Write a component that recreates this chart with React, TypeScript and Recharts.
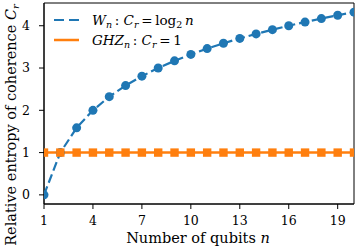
import React from 'react';
import { LineChart, Line, XAxis, YAxis, ReferenceArea } from 'recharts';

const qubits = [1, 2, 3, 4, 5, 6, 7, 8, 9, 10, 11, 12, 13, 14, 15, 16, 17, 18, 19, 20];
const wValues = [0, 1, 1.585, 2, 2.322, 2.585, 2.807, 3, 3.17, 3.322, 3.459, 3.585, 3.7, 3.807, 3.907, 4, 4.087, 4.17, 4.248, 4.322];
const ghzValues = [1, 1, 1, 1, 1, 1, 1, 1, 1, 1, 1, 1, 1, 1, 1, 1, 1, 1, 1, 1];
const xTicks = [1, 4, 7, 10, 13, 16, 19];
const yTicks = [0, 1, 2, 3, 4];

const data = qubits.map((n, i) => ({ n, w: wValues[i], ghz: ghzValues[i] }));

const BLUE = '#1f77b4';
const ORANGE = '#ff7f0e';
const FONT = 'DejaVu Serif';

const SquareDot = (props: any) => {
  const { cx, cy } = props;
  if (cx == null || cy == null) return null;
  return <rect x={cx - 4.2} y={cy - 4.2} width={8.4} height={8.4} fill={ORANGE} />;
};

const CircleDot = (props: any) => {
  const { cx, cy } = props;
  if (cx == null || cy == null) return null;
  return <circle cx={cx} cy={cy} r={4.5} fill={BLUE} />;
};

const subStyle: React.CSSProperties = { fontSize: 9.5, verticalAlign: '-3px', lineHeight: 0 };

const LegendBox = () => (
  <div style={{ position: 'absolute', left: 52, top: 10, fontFamily: FONT, fontSize: 13.5, color: '#000', lineHeight: '20px' }}>
    <div style={{ display: 'flex', alignItems: 'center', height: 20 }}>
      <svg width={40} height={20}>
        <line x1={2} y1={10} x2={27} y2={10} stroke={BLUE} strokeWidth={2.2} strokeDasharray="10 5" />
      </svg>
      <span style={{ whiteSpace: 'nowrap' }}>
        <i>W</i><i style={subStyle}>n</i>&thinsp;:&nbsp;<i>C</i><i style={subStyle}>r</i>&thinsp;=&thinsp;log<span style={subStyle}>2</span>&thinsp;<i>n</i>
      </span>
    </div>
    <div style={{ display: 'flex', alignItems: 'center', height: 20 }}>
      <svg width={40} height={20}>
        <line x1={2} y1={10} x2={27} y2={10} stroke={ORANGE} strokeWidth={2.5} />
      </svg>
      <span style={{ whiteSpace: 'nowrap' }}>
        <i>GHZ</i><i style={subStyle}>n</i>&thinsp;:&nbsp;<i>C</i><i style={subStyle}>r</i>&thinsp;=&thinsp;1
      </span>
    </div>
  </div>
);

const YLabel = () => (
  <text
    x={0}
    y={0}
    transform="translate(15.5,125) rotate(-90)"
    textAnchor="middle"
    style={{ fontFamily: FONT, fontSize: 14.5, fill: '#000' }}
  >
    Relative entropy of coherence <tspan fontStyle="italic">C</tspan>
    <tspan fontStyle="italic" fontSize={10} dy={3}>r</tspan>
  </text>
);

const XLabel = () => (
  <text x={198} y={243} textAnchor="middle" style={{ fontFamily: FONT, fontSize: 14.5, fill: '#000' }}>
    Number of qubits <tspan fontStyle="italic">n</tspan>
  </text>
);

const tickStyle = { fontSize: 12.5, fill: '#000', style: { fontFamily: FONT } };

export default function App() {
  return (
    <div style={{ position: 'absolute', left: 0, top: 0, width: 357, height: 252, background: '#fff', fontFamily: FONT }}>
      <LineChart width={357} height={252} data={data} margin={{ top: 3, right: 3, bottom: 0, left: 0 }} style={{ fontFamily: FONT }}>
        <ReferenceArea x1={1} x2={20} y1={-0.216} y2={4.538} fill="none" stroke="#000" strokeWidth={1} ifOverflow="visible" />
        <XAxis
          dataKey="n"
          type="number"
          domain={[1, 20]}
          ticks={xTicks}
          allowDataOverflow
          height={48}
          tickSize={5}
          tickMargin={7}
          tick={tickStyle}
          axisLine={{ stroke: '#000' }}
          tickLine={{ stroke: '#000' }}
          label={{ content: <XLabel /> }}
        />
        <YAxis
          type="number"
          domain={[-0.216, 4.538]}
          ticks={yTicks}
          allowDataOverflow
          width={44}
          tickSize={5}
          tickMargin={9}
          tick={tickStyle}
          axisLine={{ stroke: '#000' }}
          tickLine={{ stroke: '#000' }}
          label={{ content: <YLabel /> }}
        />
        <Line
          dataKey="w"
          stroke={BLUE}
          strokeWidth={2.2}
          strokeDasharray="9 4"
          dot={<CircleDot />}
          activeDot={false}
          isAnimationActive={false}
          type="linear"
        />
        <Line
          dataKey="ghz"
          stroke={ORANGE}
          strokeWidth={2.5}
          dot={<SquareDot />}
          activeDot={false}
          isAnimationActive={false}
          type="linear"
        />
      </LineChart>
      <LegendBox />
    </div>
  );
}
